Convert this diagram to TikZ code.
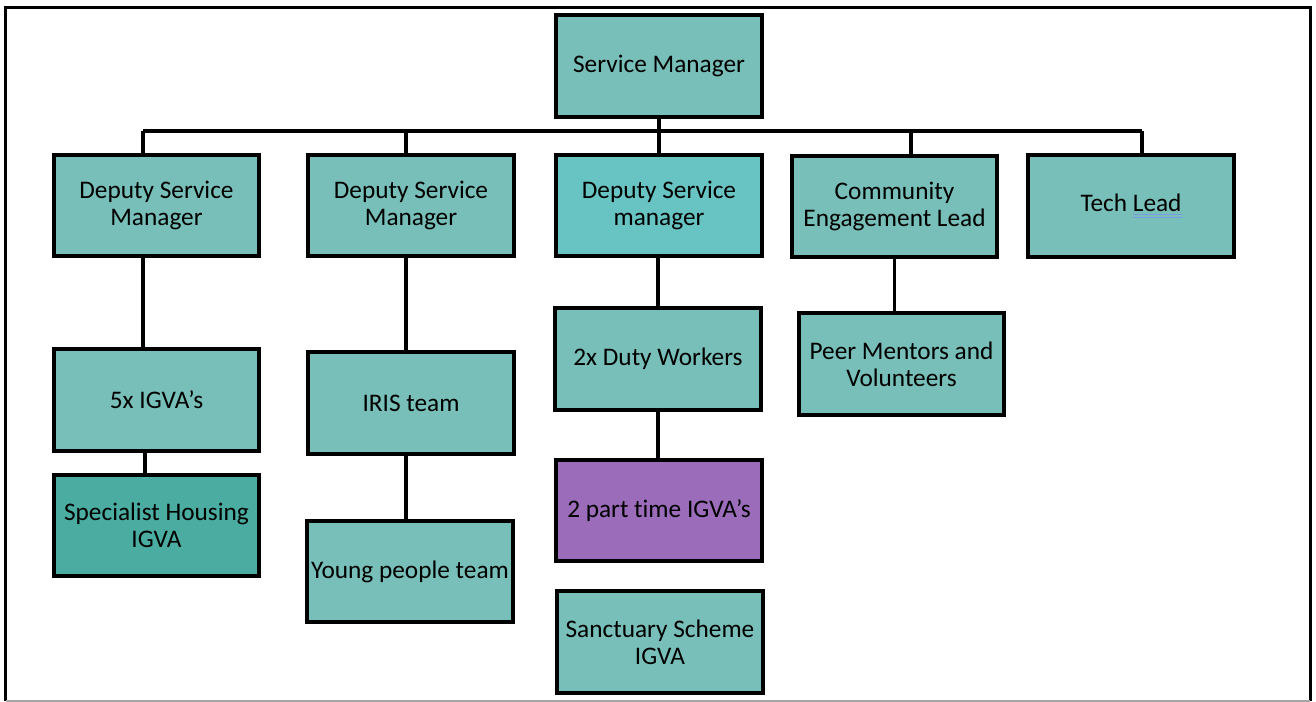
\documentclass[tikz,border=0pt]{standalone}
\usepackage{fontspec}
\setmainfont{Carlito}[Ligatures=NoCommon]
\definecolor{boxteal}{HTML}{77BFB8}
\definecolor{boxcyan}{HTML}{68C4C3}
\definecolor{boxdark}{HTML}{4BADA2}
\definecolor{boxpurple}{HTML}{9A6CBA}
\definecolor{spellblue}{HTML}{7C9BE0}
\newcommand{\spellmark}[1]{\setbox0\hbox{#1}\rlap{\textcolor{spellblue}{\rule[-2pt]{\wd0}{0.7pt}}}\rlap{\textcolor{spellblue}{\rule[-3.5pt]{\wd0}{0.7pt}}}\box0}
\begin{document}
\begin{tikzpicture}[x=0.02cm,y=-0.02cm,
		box/.style={draw=black,line width=0.08cm,fill=boxteal,minimum width=4.11cm,minimum height=2.03cm,inner sep=0pt,outer sep=0pt,align=center,font=\fontsize{14.4}{15.4}\selectfont},
		link/.style={line width=0.07cm}]
				\useasboundingbox (0,0) rectangle (1316,702);
				% Frame
				\draw[line width=0.06cm] (5.5,701) -- (5.5,8) -- (1310,8) -- (1310,701);
				\draw[gray!70,line width=0.03cm] (5.5,701) -- (1310,701);

				% Top
				\node[box] (sm) at (659,66) {Service Manager};

				% Deputies and leads
				\node[box] (dsmA) at (156.5,205.5) {Deputy Service\\Manager};
				\node[box] (dsmB) at (411,205.5) {Deputy Service\\Manager};
				\node[box,fill=boxcyan] (dsmC) at (659,205.5) {Deputy Service\\manager};
				\node[box] (cel) at (894.5,206.5) {Community\\Engagement Lead};
				\node[box] (tech) at (1131,206) {Tech \spellmark{Lead}};

				% Teams
				\node[box] (igvaA) at (156.5,400) {5x IGVA’s};
				\node[box,fill=boxdark] (housing) at (156.5,525.5) {Specialist Housing\\IGVA};
				\node[box] (iris) at (411,403) {IRIS team};
				\node[box] (young) at (410,571.5) {Young people team};
				\node[box] (duty) at (658,359) {2x Duty Workers};
				\node[box,fill=boxpurple] (parttime) at (659,510.5) {2 part time IGVA’s};
				\node[box] (sanct) at (660,642) {Sanctuary Scheme\\IGVA};
				\node[box] (peer) at (901.5,364) {Peer Mentors and\\Volunteers};

				% Bus
				\coordinate (tapA) at (143,131);
				\coordinate (tapB) at (406,131);
				\coordinate (tapC) at (659,131);
				\coordinate (tapD) at (911,131);
				\coordinate (tapE) at (1142,131);
				\draw[link] (sm.south) -- (tapC);
				\draw[link] (tapA) -- (tapE);
				\draw[link] (tapA) -- (tapA |- dsmA.north);
				\draw[link] (tapB) -- (tapB |- dsmB.north);
				\draw[link] (tapC) -- (dsmC.north);
				\draw[link] (tapD) -- (tapD |- cel.north);
				\draw[link] (tapE) -- (tapE |- tech.north);

				% Downward links
				\draw[link] (tapA |- dsmA.south) -- (tapA |- igvaA.north);
				\draw[link] ([xshift=-0.23cm]igvaA.south) -- ([xshift=-0.23cm]housing.north);
				\draw[link] (tapB |- dsmB.south) -- (tapB |- iris.north);
				\draw[link] (tapB |- iris.south) -- (tapB |- young.north);
				\draw[link] (dsmC.south -| duty.north) -- (duty.north);
				\draw[link] (duty.south) -- (duty.south |- parttime.north);
				\draw[link] (cel.south) -- (cel.south |- peer.north);
			\end{tikzpicture}
\end{document}
